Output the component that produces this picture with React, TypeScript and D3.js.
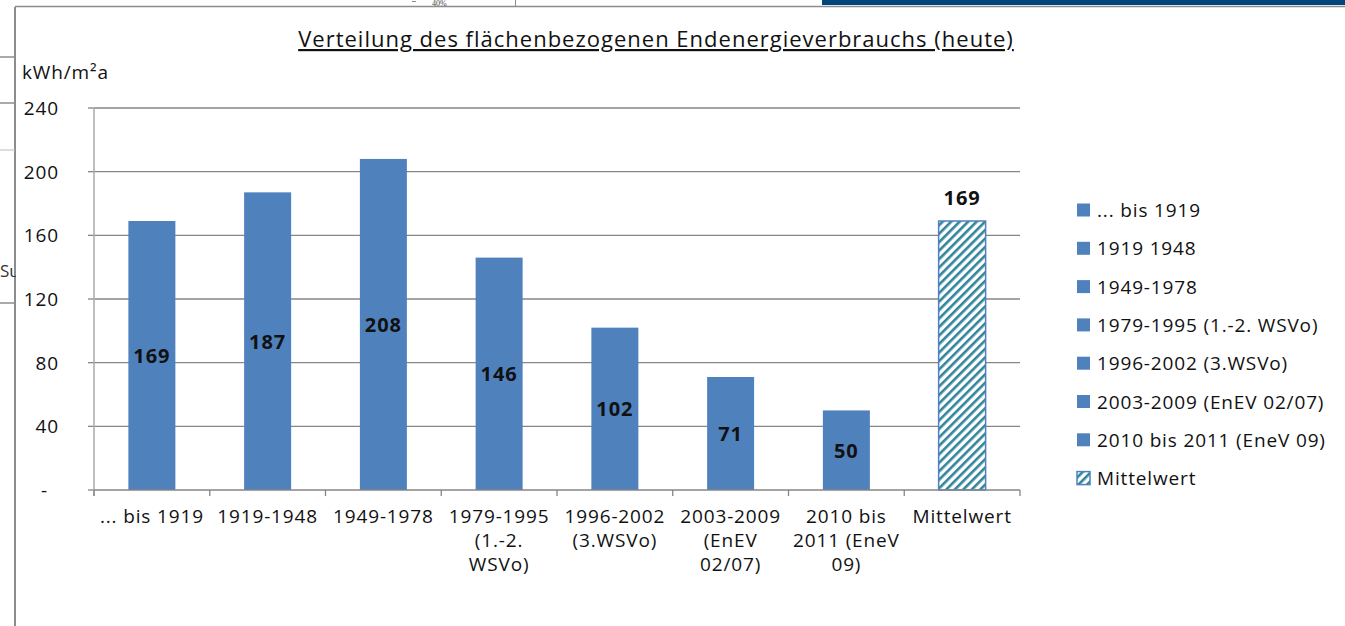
import React from "react";
import * as d3 from "d3";

// categories and values
const categories = [
  "... bis 1919",
  "1919-1948",
  "1949-1978",
  "1979-1995",
  "1996-2002",
  "2003-2009",
  "2010 bis 2011",
  "Mittelwert",
];
const values = [169, 187, 208, 146, 102, 71, 50, 169];
const axisLabels = [
  ["... bis 1919"],
  ["1919-1948"],
  ["1949-1978"],
  ["1979-1995", "(1.-2.", "WSVo)"],
  ["1996-2002", "(3.WSVo)"],
  ["2003-2009", "(EnEV", "02/07)"],
  ["2010 bis", "2011 (EneV", "09)"],
  ["Mittelwert"],
];
const legendLabels = [
  "... bis 1919",
  "1919 1948",
  "1949-1978",
  "1979-1995 (1.-2. WSVo)",
  "1996-2002 (3.WSVo)",
  "2003-2009 (EnEV 02/07)",
  "2010 bis 2011 (EneV 09)",
  "Mittelwert",
];
const yTicks = [0, 40, 80, 120, 160, 200, 240];

const FONT = "'Open Sans', sans-serif";
const BLUE = "#4f81bd";
const TEAL = "#31849b";
const GRID = "#868686";
const FS = 19; // body text size
const LS = 0.85; // the original's text runs wide

const W = 1345;
const H = 626;
const PLOT = { left: 94, right: 1020, top: 108, bottom: 490 };

export default function App() {
  const x = d3
    .scaleBand<string>()
    .domain(categories)
    .range([PLOT.left, PLOT.right])
    .padding(0);
  const y = d3.scaleLinear().domain([0, 240]).range([PLOT.bottom, PLOT.top]);
  const barW = x.bandwidth() * 0.406;

  return (
    <svg
      width={W}
      height={H}
      style={{ position: "absolute", left: 0, top: 0, background: "white" }}
      fontFamily={FONT}
    >
      <defs>
        <pattern
          id="hatch"
          width={6}
          height={6}
          patternUnits="userSpaceOnUse"
          patternTransform="rotate(45)"
        >
          <rect width={6} height={6} fill="white" />
          <rect width={2.6} height={6} fill={TEAL} />
        </pattern>
      </defs>

      {/* bits of the surrounding page */}
      <rect x={822} y={0} width={523} height={5} fill="#00457c" />
      <line x1={15} y1={6.5} x2={W} y2={6.5} stroke="#8c8c8c" strokeWidth={1.5} />
      <line x1={15} y1={7} x2={15} y2={H} stroke="#8c8c8c" strokeWidth={2} />
      <line x1={515.5} y1={0} x2={515.5} y2={6} stroke="#8c8c8c" />
      <line x1={412} y1={1.5} x2={416} y2={1.5} stroke="#8c8c8c" />
      <text x={432} y={6} fontSize={8} fill="#444" fontFamily="'Liberation Serif', serif">40%</text>
      <line x1={0} y1={57} x2={15} y2={57} stroke="#8c8c8c" strokeWidth={1.5} />
      <line x1={0} y1={103} x2={15} y2={103} stroke="#8c8c8c" strokeWidth={1.5} />
      <line x1={0} y1={150} x2={15} y2={150} stroke="#bbb" />
      <line x1={0} y1={303} x2={15} y2={303} stroke="#8c8c8c" strokeWidth={1.5} />
      <text x={0} y={277} fontSize={17} fill="#333">Su</text>
      <rect x={16} y={8} width={W} height={H} fill="white" />

      {/* title */}
      <text
        x={656}
        y={47}
        textAnchor="middle"
        fontSize={22}
        letterSpacing={1}
        fill="#111"
        textDecoration="underline"
      >
        Verteilung des flächenbezogenen Endenergieverbrauchs (heute)
      </text>
      <text x={22} y={79} fontSize={FS} letterSpacing={LS} fill="#111">
        kWh/m²a
      </text>

      {/* grid + y axis */}
      {yTicks.map((t) => (
        <g key={t}>
          {t > 0 && (
            <line x1={PLOT.left} x2={PLOT.right} y1={y(t)} y2={y(t)} stroke={GRID} strokeWidth={1.3} />
          )}
          <line x1={PLOT.left - 6} x2={PLOT.left} y1={y(t)} y2={y(t)} stroke={GRID} strokeWidth={1.3} />
          <text
            x={t === 0 ? 48 : 59}
            y={y(t)}
            textAnchor="end"
            dominantBaseline="central"
            fontSize={FS}
            letterSpacing={LS}
            fill="#111"
          >
            {t === 0 ? "-" : t}
          </text>
        </g>
      ))}
      <line x1={PLOT.left} x2={PLOT.left} y1={PLOT.top} y2={PLOT.bottom + 6} stroke="#aaa" strokeWidth={1.5} />

      {/* bars */}
      {categories.map((c, i) => {
        const cx = (x(c) ?? 0) + x.bandwidth() / 2;
        const top = y(values[i]);
        const isMean = i === categories.length - 1;
        return (
          <g key={c}>
            <rect
              x={cx - barW / 2}
              y={top}
              width={barW}
              height={PLOT.bottom - top}
              fill={isMean ? "url(#hatch)" : BLUE}
              stroke={isMean ? BLUE : "none"}
              strokeWidth={isMean ? 1.5 : 0}
            />
            <text
              x={cx}
              y={isMean ? top - 24 : (top + PLOT.bottom) / 2}
              textAnchor="middle"
              dominantBaseline="central"
              fontSize={20}
              letterSpacing={1}
              fontWeight="bold"
              fill="#111"
            >
              {values[i]}
            </text>
          </g>
        );
      })}

      {/* x axis */}
      <line x1={PLOT.left} x2={PLOT.right} y1={PLOT.bottom} y2={PLOT.bottom} stroke={GRID} strokeWidth={1.3} />
      {d3.range(categories.length + 1).map((k) => {
        const tx = PLOT.left + k * x.step();
        return <line key={k} x1={tx} x2={tx} y1={PLOT.bottom} y2={PLOT.bottom + 6} stroke={GRID} strokeWidth={1.3} />;
      })}
      {axisLabels.map((lines, i) => {
        const cx = (x(categories[i]) ?? 0) + x.bandwidth() / 2;
        return (
          <text key={i} x={cx} y={523} textAnchor="middle" fontSize={FS} letterSpacing={LS} fill="#111">
            {lines.map((l, j) => (
              <tspan key={j} x={cx} dy={j === 0 ? 0 : 24}>
                {l}
              </tspan>
            ))}
          </text>
        );
      })}

      {/* legend */}
      {legendLabels.map((l, i) => {
        const ly = 210 + i * 38.3;
        const isMean = i === legendLabels.length - 1;
        return (
          <g key={l}>
            <rect
              x={1077}
              y={ly - 6.5}
              width={13}
              height={13}
              fill={isMean ? "url(#hatch)" : BLUE}
              stroke={isMean ? BLUE : "none"}
              strokeWidth={1.5}
            />
            <text x={1097} y={ly} dominantBaseline="central" fontSize={FS} letterSpacing={LS} fill="#111">
              {l}
            </text>
          </g>
        );
      })}
    </svg>
  );
}
